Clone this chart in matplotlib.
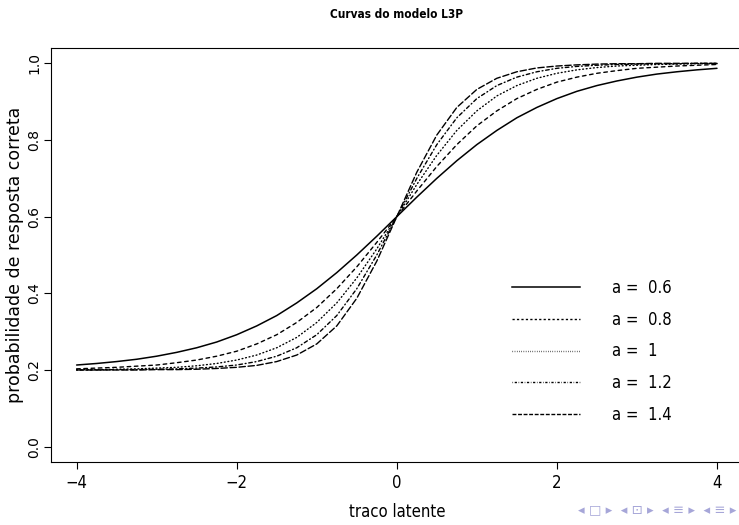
import matplotlib
matplotlib.use("Agg")
import matplotlib.pyplot as plt
from matplotlib.lines import Line2D
from matplotlib.font_manager import FontProperties

plt.rcParams["lines.scale_dashes"] = False

# values (theta grid and P(theta) for each a)
theta = [-4.0, -3.75, -3.5, -3.25, -3.0, -2.75, -2.5, -2.25, -2.0, -1.75, -1.5,
         -1.25, -1.0, -0.75, -0.5, -0.25, 0.0, 0.25, 0.5, 0.75, 1.0, 1.25, 1.5,
         1.75, 2.0, 2.25, 2.5, 2.75, 3.0, 3.25, 3.5, 3.75, 4.0]
p_a06 = [0.213, 0.217, 0.222, 0.228, 0.236, 0.246, 0.258, 0.273, 0.292, 0.315, 0.342,
         0.375, 0.412, 0.454, 0.500, 0.549, 0.600, 0.651, 0.700, 0.746, 0.788, 0.825,
         0.858, 0.885, 0.908, 0.927, 0.942, 0.954, 0.964, 0.972, 0.978, 0.983, 0.987]
p_a08 = [0.203, 0.205, 0.207, 0.210, 0.213, 0.219, 0.226, 0.236, 0.249, 0.268, 0.292,
         0.324, 0.363, 0.412, 0.469, 0.533, 0.600, 0.667, 0.731, 0.788, 0.837, 0.876,
         0.908, 0.932, 0.951, 0.964, 0.974, 0.981, 0.987, 0.990, 0.993, 0.995, 0.997]
p_a10 = [0.201, 0.201, 0.202, 0.203, 0.205, 0.207, 0.211, 0.217, 0.226, 0.239, 0.258,
         0.285, 0.324, 0.375, 0.440, 0.516, 0.600, 0.684, 0.760, 0.825, 0.876, 0.915,
         0.942, 0.961, 0.974, 0.983, 0.989, 0.993, 0.995, 0.997, 0.998, 0.999, 0.999]
p_a12 = [0.200, 0.200, 0.201, 0.201, 0.202, 0.203, 0.205, 0.208, 0.213, 0.222, 0.236,
         0.258, 0.292, 0.342, 0.412, 0.500, 0.600, 0.700, 0.788, 0.858, 0.908, 0.942,
         0.964, 0.978, 0.987, 0.992, 0.995, 0.997, 0.998, 0.999, 0.999, 1.000, 1.000]
p_a14 = [0.200, 0.200, 0.200, 0.200, 0.201, 0.201, 0.202, 0.204, 0.207, 0.212, 0.222,
         0.239, 0.268, 0.315, 0.387, 0.484, 0.600, 0.716, 0.813, 0.885, 0.932, 0.961,
         0.978, 0.988, 0.993, 0.996, 0.998, 0.999, 0.999, 1.000, 1.000, 1.000, 1.000]
labels = ["a =  0.6", "a =  0.8", "a =  1", "a =  1.2", "a =  1.4"]
curves = [p_a06, p_a08, p_a10, p_a12, p_a14]

# R lty 1..5, scaled for the curves and (narrower) for the legend
curve_dash = [None, (2.6, 2.6), (0.65, 1.95), (0.65, 1.95, 2.6, 1.95), (4.55, 1.95)]
leg_dash = [None, (1.6, 1.6), (0.4, 1.2), (0.4, 1.2, 1.6, 1.2), (2.8, 1.2)]


def narrow(size, weight="normal"):
    return FontProperties(family="DejaVu Sans", stretch="condensed", size=size, weight=weight)


fig = plt.figure(figsize=(7.39, 5.25), dpi=100)
ax = fig.add_axes([51 / 739, 1 - 462 / 525, 691.6 / 739, 414 / 525])

for y, d in zip(curves, curve_dash):
    if d is None:
        ax.plot(theta, y, color="black", lw=1.1, solid_capstyle="round")
    else:
        ax.plot(theta, y, color="black", lw=1.0, linestyle=(0, d), dash_capstyle="round")

ax.set_xlim(-4.32, 4.32)
ax.set_ylim(-0.04, 1.04)
ax.set_xticks([-4, -2, 0, 2, 4])
ax.set_yticks([0.0, 0.2, 0.4, 0.6, 0.8, 1.0])
ax.set_yticklabels(["0.0", "0.2", "0.4", "0.6", "0.8", "1.0"])
for s in ax.spines.values():
    s.set_linewidth(0.8)
ax.tick_params(direction="out", length=5, width=0.8, color="black")
ax.tick_params(axis="x", pad=4)
ax.tick_params(axis="y", pad=2)
for t in ax.get_xticklabels():
    t.set_fontproperties(narrow(12))
for t in ax.get_yticklabels():
    t.set_family("DejaVu Sans")
    t.set_fontsize(10)
    t.set_rotation(90)
    t.set_va("center")

ax.set_ylabel("probabilidade de resposta correta", family="DejaVu Sans",
              fontsize=12.5, va="center")
ax.yaxis.set_label_coords((15 - 51) / 691.6, 0.5)
ax.set_xlabel("traco latente", fontproperties=narrow(12), va="top")
ax.xaxis.set_label_coords(0.5, -(503 - 462) / 414)

fig.text(396 / 739, 1 - 14 / 525, "Curvas do modelo L3P",
         fontproperties=narrow(8.5, "bold"), ha="center", va="center")

handles = []
for d in leg_dash:
    if d is None:
        handles.append(Line2D([], [], color="black", lw=1.1))
    else:
        handles.append(Line2D([], [], color="black", lw=1.0, linestyle=(0, d)))
leg = ax.legend(handles, labels, loc="upper left", frameon=False,
                bbox_to_anchor=(512 / 739, 1 - 279 / 525),
                bbox_transform=fig.transFigure, borderpad=0, borderaxespad=0,
                handlelength=4.07, handletextpad=1.92, labelspacing=0.82,
                prop=narrow(12))

# beamer navigation symbols
fig.text(736 / 739, 1 - 510 / 525, "\u25c2 \u25a1 \u25b8  \u25c2 \u22a1 \u25b8  \u25c2 \u2261 \u25b8  \u25c2 \u2261 \u25b8",
         family="DejaVu Sans", fontsize=9.5, color="#a6a6d8", ha="right", va="center")

fig.savefig("out.png", dpi=100)
